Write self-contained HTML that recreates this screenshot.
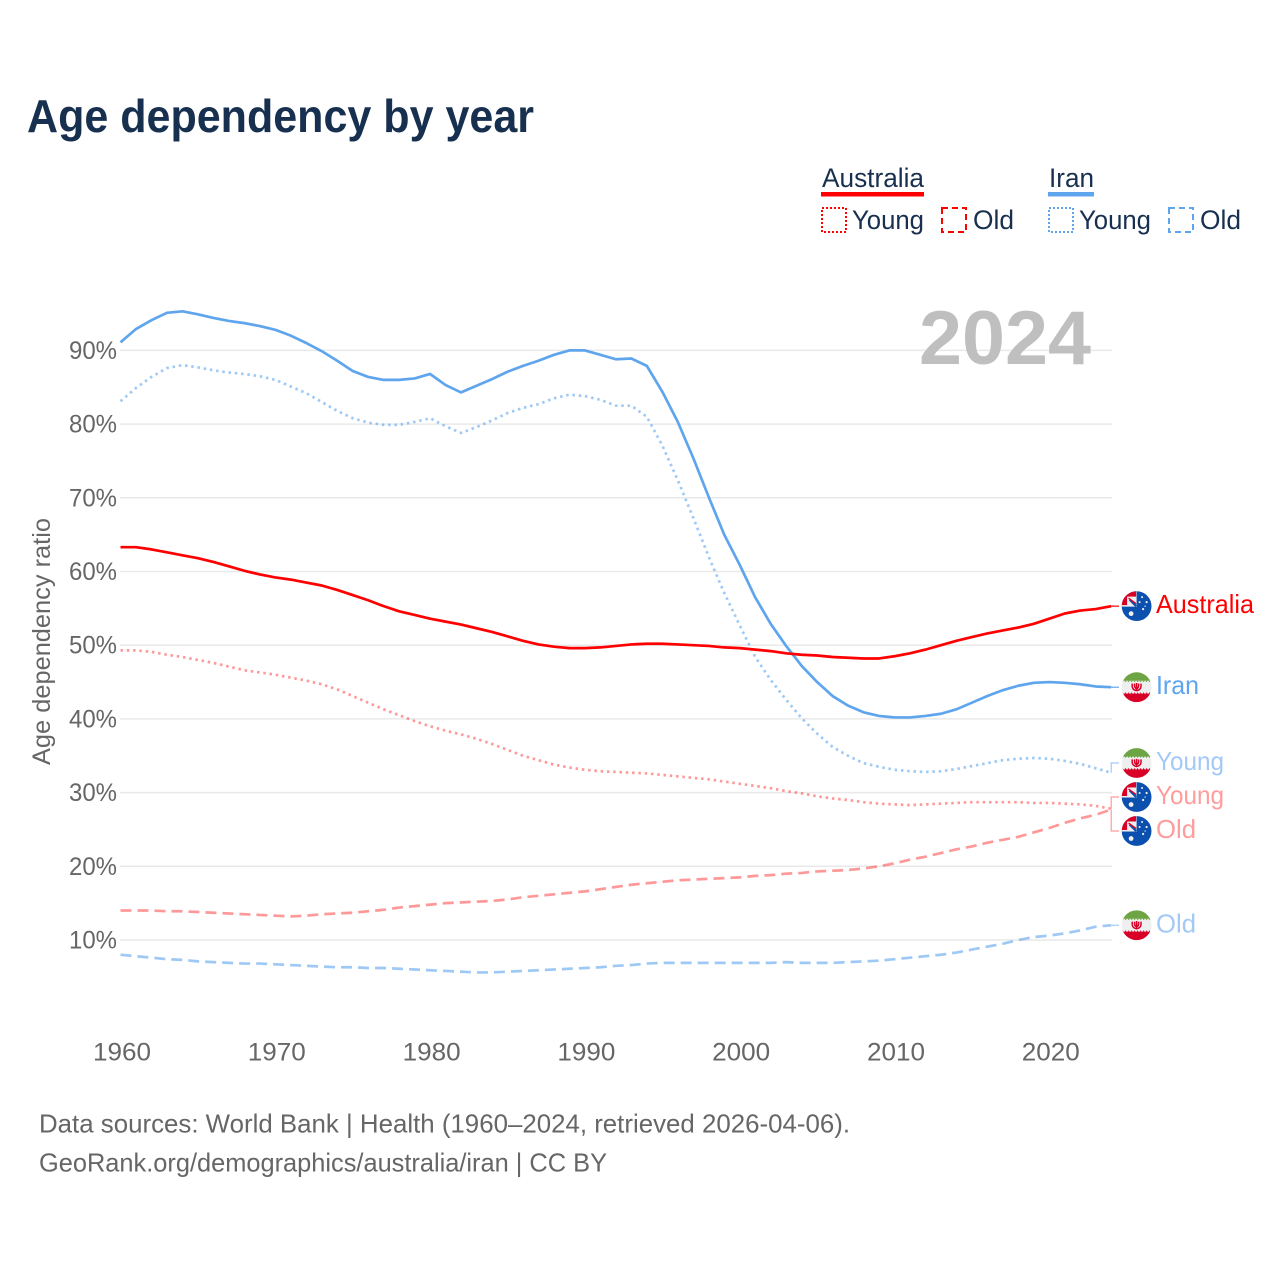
<!DOCTYPE html>
<html lang="en">
<head>
<meta charset="utf-8">
<title>Age dependency by year</title>
<style>
html,body{margin:0;padding:0;background:#fff}
svg{display:block;font-family:"Liberation Sans",sans-serif}
</style>
</head>
<body>
<svg id="chart" xmlns="http://www.w3.org/2000/svg" width="1280" height="1280" viewBox="0 0 1280 1280">
  <defs>
    <clipPath id="flag-clip"><circle cx="0" cy="0" r="14.9"/></clipPath>
  </defs>
  <rect width="1280" height="1280" fill="#fff"/>
  <text x="27" y="132" font-size="46" font-weight="700" fill="#17304f" textLength="507" lengthAdjust="spacingAndGlyphs">Age dependency by year</text>

  <g font-size="27" fill="#17304f">
    <text x="822" y="187" textLength="102" lengthAdjust="spacingAndGlyphs">Australia</text>
    <rect x="821" y="192" width="103" height="4.5" fill="#ff0000"/>
    <rect x="822" y="208" width="24" height="24" fill="none" stroke="#ff0000" stroke-width="2" stroke-dasharray="2 2"/>
    <text x="852" y="229" textLength="72" lengthAdjust="spacingAndGlyphs">Young</text>
    <rect x="942" y="208" width="24" height="24" fill="none" stroke="#ff0000" stroke-width="2" stroke-dasharray="6 4"/>
    <text x="973" y="229" textLength="41" lengthAdjust="spacingAndGlyphs">Old</text>
    <text x="1049" y="187" textLength="45" lengthAdjust="spacingAndGlyphs">Iran</text>
    <rect x="1048" y="192" width="46" height="4.5" fill="#5fa5ee"/>
    <rect x="1049" y="208" width="24" height="24" fill="none" stroke="#5fa5ee" stroke-width="2" stroke-dasharray="2 2"/>
    <text x="1079" y="229" textLength="72" lengthAdjust="spacingAndGlyphs">Young</text>
    <rect x="1169" y="208" width="24" height="24" fill="none" stroke="#5fa5ee" stroke-width="2" stroke-dasharray="6 4"/>
    <text x="1200" y="229" textLength="41" lengthAdjust="spacingAndGlyphs">Old</text>
  </g>

  <g id="grid"></g>
  <text x="919" y="364" font-size="76" font-weight="700" fill="#bfbfbf" textLength="172" lengthAdjust="spacingAndGlyphs">2024</text>
  <g id="y-ticks" font-size="25" fill="#666"></g>
  <g id="x-ticks" font-size="25" fill="#666"></g>
  <text transform="translate(50,765) rotate(-90)" font-size="25" fill="#666" textLength="247" lengthAdjust="spacingAndGlyphs">Age dependency ratio</text>
  <g id="series"></g>
  <g id="end-labels"></g>

  <g font-size="26" fill="#666">
    <text x="39" y="1132.5" textLength="811" lengthAdjust="spacingAndGlyphs">Data sources: World Bank | Health (1960–2024, retrieved 2026-04-06).</text>
    <text x="39" y="1171.5" textLength="568" lengthAdjust="spacingAndGlyphs">GeoRank.org/demographics/australia/iran | CC BY</text>
  </g>
</svg>
<script>
const firstYear = 1960;
const xTickYears = [1960, 1970, 1980, 1990, 2000, 2010, 2020];
const yTickValues = [10, 20, 30, 40, 50, 60, 70, 80, 90];

const australiaTotal = [63.3,63.3,63.0,62.6,62.2,61.8,61.3,60.7,60.1,59.6,59.2,58.9,58.5,58.1,57.5,56.8,56.1,55.3,54.6,54.1,53.6,53.2,52.8,52.3,51.8,51.2,50.6,50.1,49.8,49.6,49.6,49.7,49.9,50.1,50.2,50.2,50.1,50.0,49.9,49.7,49.6,49.4,49.2,48.9,48.7,48.6,48.4,48.3,48.2,48.2,48.5,48.9,49.4,50.0,50.6,51.1,51.6,52.0,52.4,52.9,53.6,54.3,54.7,54.9,55.3];
const australiaYoung = [49.3,49.3,49.1,48.7,48.4,48.0,47.6,47.1,46.6,46.3,46.0,45.6,45.2,44.7,44.0,43.1,42.2,41.3,40.5,39.7,39.0,38.4,37.9,37.3,36.6,35.8,35.0,34.4,33.8,33.4,33.1,32.9,32.8,32.7,32.6,32.4,32.2,32.0,31.8,31.5,31.2,30.9,30.6,30.2,29.9,29.5,29.2,29.0,28.7,28.5,28.4,28.3,28.4,28.5,28.6,28.7,28.7,28.7,28.7,28.6,28.6,28.5,28.4,28.2,27.8];
const australiaOld = [14.0,14.0,14.0,13.9,13.9,13.8,13.7,13.6,13.5,13.4,13.3,13.2,13.3,13.5,13.6,13.7,13.9,14.1,14.4,14.6,14.8,15.0,15.1,15.2,15.3,15.5,15.8,16.0,16.2,16.4,16.6,16.9,17.2,17.5,17.7,17.9,18.1,18.2,18.3,18.4,18.5,18.7,18.8,19.0,19.1,19.3,19.4,19.5,19.7,20.0,20.4,20.9,21.3,21.8,22.3,22.7,23.2,23.6,24.0,24.6,25.2,25.9,26.5,27.0,27.7];
const iranTotal = [91.1,92.9,94.1,95.1,95.3,94.9,94.4,94.0,93.7,93.3,92.8,92.0,91.0,89.9,88.6,87.2,86.4,86.0,86.0,86.2,86.8,85.3,84.3,85.2,86.1,87.1,87.9,88.6,89.4,90.0,90.0,89.4,88.8,88.9,87.9,84.4,80.3,75.4,70.1,65.0,60.9,56.5,52.9,49.9,47.2,45.0,43.1,41.8,40.9,40.4,40.2,40.2,40.4,40.7,41.3,42.2,43.1,43.9,44.5,44.9,45.0,44.9,44.7,44.4,44.3];
const iranYoung = [83.1,84.9,86.4,87.6,88.0,87.7,87.3,87.0,86.8,86.5,86.0,85.1,84.2,83.0,81.8,80.8,80.2,79.9,79.9,80.3,80.8,79.7,78.8,79.6,80.5,81.5,82.2,82.7,83.5,84.0,83.8,83.3,82.5,82.5,81.0,77.1,72.4,67.3,62.0,57.1,52.7,48.4,45.3,42.6,40.1,38.0,36.2,35.0,34.0,33.5,33.1,32.9,32.8,32.9,33.2,33.6,34.0,34.4,34.6,34.7,34.6,34.3,33.9,33.3,32.7];
const iranOld = [8.0,7.8,7.6,7.4,7.3,7.1,7.0,6.9,6.8,6.8,6.7,6.6,6.5,6.4,6.3,6.3,6.2,6.2,6.1,6.0,5.9,5.8,5.7,5.6,5.6,5.7,5.8,5.9,6.0,6.1,6.2,6.3,6.5,6.6,6.8,6.9,6.9,6.9,6.9,6.9,6.9,6.9,6.9,7.0,6.9,6.9,6.9,7.0,7.1,7.2,7.4,7.6,7.8,8.0,8.3,8.7,9.1,9.5,10.0,10.4,10.6,10.9,11.3,11.8,12.0];

const NS = 'http://www.w3.org/2000/svg';
const xScale = year => 120.5 + (year - firstYear) * 15.48;
const yScale = value => 1013.7 - value * 7.37;

function make(tag, attrs, parent, content) {
  const el = document.createElementNS(NS, tag);
  for (const k in attrs) el.setAttribute(k, attrs[k]);
  if (content !== undefined) el.textContent = content;
  parent.appendChild(el);
  return el;
}

const gridG = document.getElementById('grid');
const yTicksG = document.getElementById('y-ticks');
const xTicksG = document.getElementById('x-ticks');
const seriesG = document.getElementById('series');
const endG = document.getElementById('end-labels');

yTickValues.forEach(v => {
  const line = make('line', {x1: 120, x2: 1112, y1: yScale(v), y2: yScale(v), stroke: '#e9e9e9', 'stroke-width': 1.5}, gridG);
  
  
  const label = make('text', {x: 117, y: yScale(v) + 8.5, 'text-anchor': 'end', textLength: 48, lengthAdjust: 'spacingAndGlyphs'}, yTicksG, v + '%');
  
  
});

xTickYears.forEach(y => {
  const label = make('text', {x: xScale(y) + 1.5, y: 1060.5, 'text-anchor': 'middle', textLength: 58, lengthAdjust: 'spacingAndGlyphs'}, xTicksG, String(y));
  
  
});

const RED = '#ff0000', BLUE = '#5fa5ee', LRED = '#ff9c9c', LBLUE = '#a3c9f6';
const seriesList = [
  {key: 'iran-old', values: iranOld, color: BLUE, text: LBLUE, opacity: 0.6, dash: '11 6', flag: 'iran', label: 'Old', w: 40},
  {key: 'iran-young', values: iranYoung, color: BLUE, text: LBLUE, opacity: 0.6, dash: '2.5 3.8', flag: 'iran', label: 'Young', w: 68},
  {key: 'australia-old', values: australiaOld, color: RED, text: LRED, opacity: 0.4, dash: '11 6', flag: 'aus', label: 'Old', w: 40},
  {key: 'australia-young', values: australiaYoung, color: RED, text: LRED, opacity: 0.4, dash: '2.5 3.8', flag: 'aus', label: 'Young', w: 68},
  {key: 'iran-total', values: iranTotal, color: BLUE, text: BLUE, opacity: 1, dash: null, flag: 'iran', label: 'Iran', w: 43},
  {key: 'australia-total', values: australiaTotal, color: RED, text: RED, opacity: 1, dash: null, flag: 'aus', label: 'Australia', w: 98}
];

seriesList.forEach(s => {
  const d = s.values.map((v, i) => (i ? 'L' : 'M') + xScale(firstYear + i).toFixed(2) + ' ' + yScale(v).toFixed(2)).join(' ');
  const attrs = {d: d, fill: 'none', stroke: s.color, 'stroke-width': 2.7, 'stroke-opacity': s.opacity, 'stroke-linejoin': 'round'};
  if (s.dash) attrs['stroke-dasharray'] = s.dash;
  const path = make('path', attrs, seriesG);
  
  
});

/* Place end labels: overlapping neighbours are grouped and spread around their mean */
const MIN_GAP = 34;
const order = seriesList.slice().sort((a, b) => b.values[b.values.length - 1] - a.values[a.values.length - 1]);
let groups = order.map(s => ({items: [s], mean: yScale(s.values[s.values.length - 1])}));
let merged = true;
while (merged) {
  merged = false;
  for (let i = 0; i < groups.length - 1; i++) {
    const a = groups[i], b = groups[i + 1];
    const aEnd = a.mean + (a.items.length - 1) * MIN_GAP / 2;
    const bStart = b.mean - (b.items.length - 1) * MIN_GAP / 2;
    if (bStart - aEnd < MIN_GAP) {
      const n = a.items.length + b.items.length;
      const mean = (a.mean * a.items.length + b.mean * b.items.length) / n;
      groups.splice(i, 2, {items: a.items.concat(b.items), mean: mean});
      merged = true;
      break;
    }
  }
}
groups.forEach(g => g.items.forEach((s, i) => { s.slotY = g.mean + (i - (g.items.length - 1) / 2) * MIN_GAP; }));

function drawIran(g) {
  make('rect', {x: -16, y: -16, width: 32, height: 32, fill: '#efefef'}, g);
  make('rect', {x: -16, y: -16, width: 32, height: 9.5, fill: '#6da544'}, g);
  make('rect', {x: -16, y: 6.5, width: 32, height: 9.5, fill: '#d80027'}, g);
  for (let i = -14; i <= 14; i += 3) {
    make('path', {d: 'M' + (i - 1.1) + ' -6.5 L' + i + ' -5 L' + (i + 1.1) + ' -6.5 Z', fill: '#6da544'}, g);
    make('path', {d: 'M' + (i - 1.1) + ' 6.5 L' + i + ' 5 L' + (i + 1.1) + ' 6.5 Z', fill: '#d80027'}, g);
  }
  make('path', {d: 'M-4.3 -3.6 Q-5.3 2.8 0 3.4 Q5.3 2.8 4.3 -3.6 M-2 -3.6 Q-2.4 1.2 0 1.4 Q2.4 1.2 2 -3.6 M0 -4.2 V4.2', fill: 'none', stroke: '#d80027', 'stroke-width': 1.5}, g);
}

function drawAustralia(g) {
  make('rect', {x: -16, y: -16, width: 32, height: 32, fill: '#0b50ae'}, g);
  make('rect', {x: -16, y: -16, width: 16, height: 16.5, fill: '#efefef'}, g);
  make('path', {d: 'M-16 -16 H-0.5 V-9.5 H-9.5 V-1 H-16 Z', fill: '#d80027'}, g);
  make('path', {d: 'M-7 -6.5 L-0.5 0', stroke: '#0b50ae', 'stroke-width': 2.2, fill: 'none'}, g);
  make('path', {d: 'M-8 -8 L-0.5 -2.5', stroke: '#d80027', 'stroke-width': 1.4, fill: 'none'}, g);
  const stars = [[-5.5, 7.5, 2.4], [5.5, -9, 1], [10, -4, 1.1], [3, -4, 1], [6.5, 3, 1.1], [8.5, 0, 0.7]];
  stars.forEach(st => make('circle', {cx: st[0], cy: st[1], r: st[2], fill: '#efefef'}, g));
}

seriesList.forEach(s => {
  const lastVal = s.values[s.values.length - 1];
  const yEnd = yScale(lastVal);
  const xEnd = xScale(firstYear + s.values.length - 1);
  const y = s.slotY;
  const displaced = Math.abs(y - yEnd) > 3;
  const connD = displaced
    ? 'M' + xEnd + ' ' + yEnd + ' V' + y + ' H1119'
    : 'M' + xEnd + ' ' + yEnd + ' H1119';
  const conn = make('path', {d: connD, fill: 'none', stroke: s.text, 'stroke-width': 1.2}, endG);
  
  

  const flag = make('g', {transform: 'translate(1136.6 ' + y + ')', 'clip-path': 'url(#flag-clip)'}, endG);
  
  
  if (s.flag === 'iran') drawIran(flag); else drawAustralia(flag);

  const label = make('text', {x: 1156, y: y + 7, 'font-size': 26, fill: s.text, textLength: s.w, lengthAdjust: 'spacingAndGlyphs'}, endG, s.label);
  
  
});
</script>
</body>
</html>
